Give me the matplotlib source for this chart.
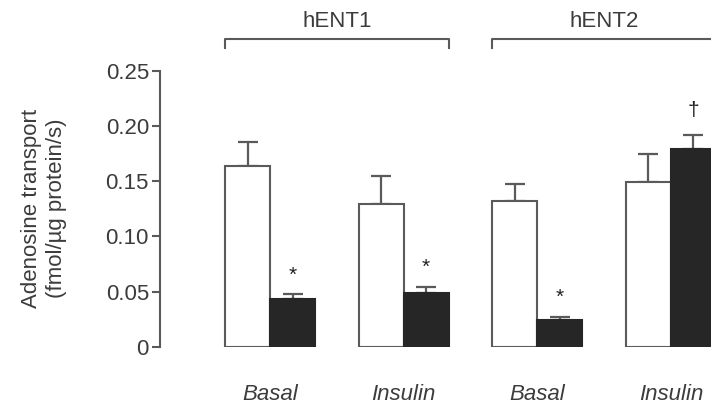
import matplotlib
matplotlib.use("Agg")
import matplotlib.pyplot as plt
import numpy as np

plt.rcParams['font.family'] = ['Liberation Sans', 'DejaVu Sans']

# data
conditions = ["Basal", "Insulin", "Basal", "Insulin"]
transporters = ["hENT1", "hENT2"]
white_vals = [0.164, 0.129, 0.132, 0.149]
white_err = [0.0215, 0.0255, 0.0155, 0.026]
black_vals = [0.043, 0.049, 0.024, 0.179]
black_err = [0.0045, 0.005, 0.0027, 0.0125]
marks = ["*", "*", "*", "\u2020"]

text_col = '#3c3c3c'
line_col = '#5a5a5a'

fig = plt.figure(figsize=(7.11, 4.04), dpi=100)
ax = fig.add_axes([160 / 711, 0.1418, 551 / 711, 0.683])

spacing = 2.97
centers = np.arange(len(conditions)) * spacing
w = 1.0

ax.bar(centers - w / 2, white_vals, width=w, color='white', edgecolor=line_col, linewidth=1.5, zorder=2)
ax.bar(centers + w / 2, black_vals, width=w, color='#262626', edgecolor='#262626', linewidth=1.5, zorder=2)

# only upward error bars
ax.errorbar(centers - w / 2, white_vals, yerr=[np.zeros(4), white_err], fmt='none',
            ecolor=line_col, elinewidth=1.6, capsize=7.5, capthick=1.6, zorder=1)
ax.errorbar(centers + w / 2, black_vals, yerr=[np.zeros(4), black_err], fmt='none',
            ecolor=line_col, elinewidth=1.6, capsize=7.5, capthick=1.6, zorder=1)

# significance marks
for i, m in enumerate(marks):
    top = black_vals[i] + black_err[i]
    off = 0.009 if m == "*" else 0.014
    ax.text(centers[i] + w / 2, top + off, m, ha='center', va='bottom',
            fontsize=15, color='#222222')

ax.set_xlim(-110 / 45, 441 / 45)
ax.set_ylim(0, 0.25)
ax.set_yticks([0, 0.05, 0.10, 0.15, 0.20, 0.25])
ax.set_yticklabels(["0", "0.05", "0.10", "0.15", "0.20", "0.25"])
ax.set_xticks(centers)
ax.set_xticklabels(conditions, fontstyle='italic')

for s in ['top', 'right', 'bottom']:
    ax.spines[s].set_visible(False)
ax.spines['left'].set_color(line_col)
ax.spines['left'].set_linewidth(1.5)
ax.tick_params(axis='y', length=6, width=1.5, color=line_col, labelsize=16, labelcolor=text_col, pad=2)
ax.tick_params(axis='x', length=0, labelsize=16, labelcolor=text_col, pad=27)

ax.set_ylabel("Adenosine transport\n(fmol/\u00b5g protein/s)", fontsize=16, color=text_col,
              linespacing=1.22, labelpad=28)

# transporter brackets above the groups
y_br, y_tk = 0.2784, 0.2708
for j, name in enumerate(transporters):
    x0 = centers[2 * j] - w
    x1 = centers[2 * j + 1] + w
    ax.plot([x0, x0, x1, x1], [y_tk, y_br, y_br, y_tk], color=line_col, lw=1.5, clip_on=False)
    ax.text((x0 + x1) / 2, 0.2944, name, ha='center', va='center', fontsize=16, color=text_col,
            clip_on=False)

fig.savefig("out.png", dpi=100)
